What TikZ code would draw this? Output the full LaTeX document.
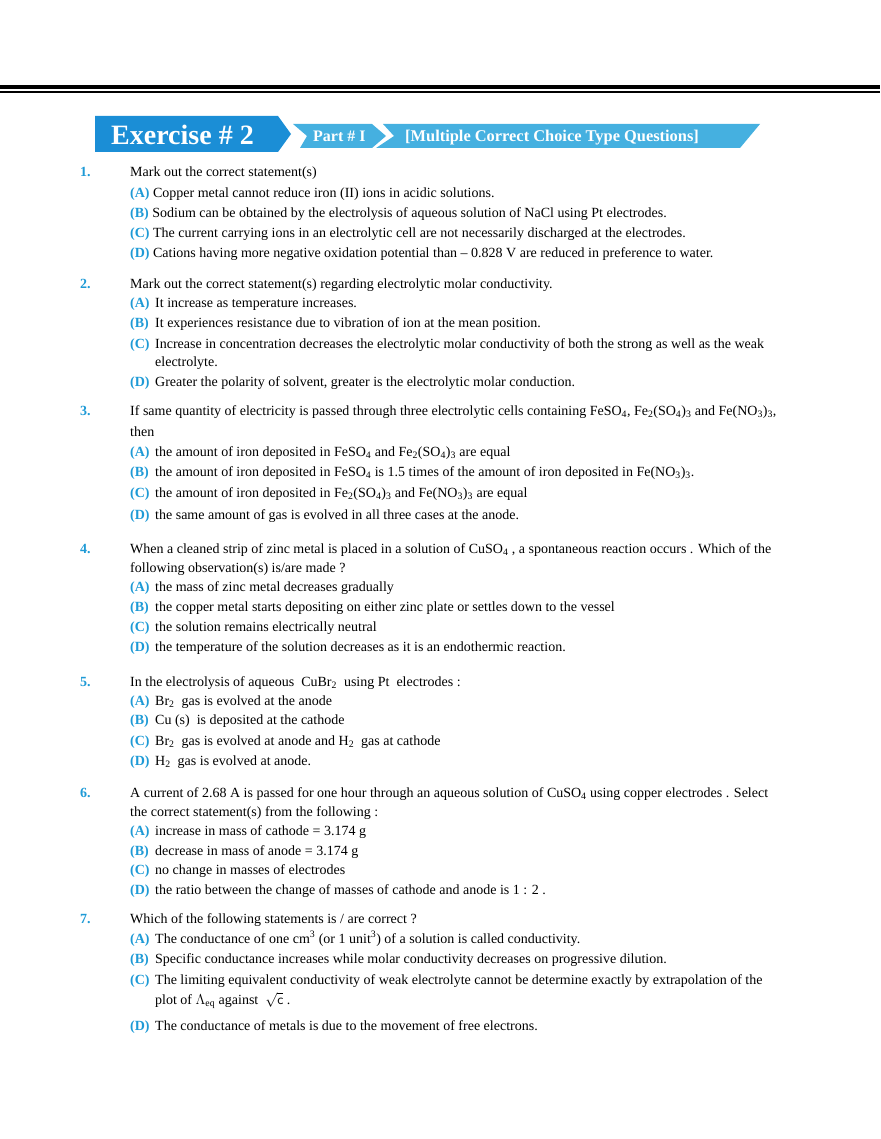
\documentclass[tikz,border=0pt]{standalone}
\usepackage{fontspec}
\setmainfont{Liberation Serif}
\definecolor{dblue}{HTML}{1B8ED6}
\definecolor{lblue}{HTML}{45B0E0}
\definecolor{qblue}{HTML}{1E9AD6}
\newcommand{\sbs}[1]{\textsubscript{#1}}
\begin{document}
\begin{tikzpicture}[x=1pt,y=-1pt,
  t/.style={anchor=base west,inner sep=0pt,font=\fontsize{14}{16}\selectfont},
  num/.style={t,font=\fontsize{14}{16}\selectfont\bfseries,text=qblue},
  ]
\useasboundingbox (0,0) rectangle (880,1139);
\fill[black] (0,85) rectangle (880,89);
\fill[black] (0,91.5) rectangle (880,93);
\fill[dblue] (95,116) -- (278,116) -- (291,134) -- (278,152) -- (95,152) -- cycle;
\fill[lblue] (293,124) -- (372,124) -- (386,136) -- (372,148) -- (300,148) -- (307,136) -- cycle;
\fill[lblue] (383,124) -- (760,124) -- (740,148) -- (376,148) -- (394,136) -- cycle;
\node[anchor=base west,inner sep=0,text=white,font=\fontsize{28}{30}\selectfont\bfseries] (h1) at (111,145) {Exercise \# 2};
\node[anchor=base west,inner sep=0,text=white,font=\fontsize{16}{18}\selectfont\bfseries] (h2) at (313,142) {Part \# I};
\node[anchor=base west,inner sep=0,text=white,font=\fontsize{16.4}{18}\selectfont\bfseries] (h3) at (405,142) {[Multiple Correct Choice Type Questions]};
% Q1
\node[num] (n1) at (80,177) {1.};
\node[t] (q1) at (130,177) {Mark out the correct statement(s)};
\node[t] (q1a) at (130,198) {\textbf{\color{qblue}(A)} Copper metal cannot reduce iron (II) ions in acidic solutions.};
\node[t] (q1b) at (130,218) {\textbf{\color{qblue}(B)} Sodium can be obtained by the electrolysis of aqueous solution of NaCl using Pt electrodes.};
\node[t] (q1c) at (130,238) {\textbf{\color{qblue}(C)} The current carrying ions in an electrolytic cell are not necessarily discharged at the electrodes.};
\node[t] (q1d) at (130,258) {\textbf{\color{qblue}(D)} Cations having more negative oxidation potential than -- 0.828 V are reduced in preference to water.};
% Q2
\node[num] (n2) at (80,288) {2.};
\node[t] (q2) at (130,288) {Mark out the correct statement(s) regarding electrolytic molar conductivity.};
\node[num] (l2a) at (130,307) {(A)}; \node[t] (q2a) at (155,307) {It increase as temperature increases.};
\node[num] (l2b) at (130,327) {(B)}; \node[t] (q2b) at (155,327) {It experiences resistance due to vibration of ion at the mean position.};
\node[num] (l2c) at (130,348) {(C)}; \node[t] (q2c) at (155,348) {Increase in concentration decreases the electrolytic molar conductivity of both the strong as well as the weak};
\node[t] (q2c2) at (155,366) {electrolyte.};
\node[num] (l2d) at (130,386) {(D)}; \node[t] (q2d) at (155,386) {Greater the polarity of solvent, greater is the electrolytic molar conduction.};
% Q3
\node[num] (n3) at (80,415) {3.};
\node[t] (q3) at (130,415) {If same quantity of electricity is passed through three electrolytic cells containing FeSO\sbs{4}, Fe\sbs{2}(SO\sbs{4})\sbs{3} and Fe(NO\sbs{3})\sbs{3},};
\node[t] (q3b) at (130,436) {then};
\node[num] (l3a) at (130,456) {(A)}; \node[t] (q3a) at (155,456) {the amount of iron deposited in FeSO\sbs{4} and Fe\sbs{2}(SO\sbs{4})\sbs{3} are equal};
\node[num] (l3b) at (130,476) {(B)}; \node[t] (q3bb) at (155,476) {the amount of iron deposited in FeSO\sbs{4} is 1.5 times of the amount of iron deposited in Fe(NO\sbs{3})\sbs{3}.};
\node[num] (l3c) at (130,497) {(C)}; \node[t] (q3c) at (155,497) {the amount of iron deposited in Fe\sbs{2}(SO\sbs{4})\sbs{3} and Fe(NO\sbs{3})\sbs{3} are equal};
\node[num] (l3d) at (130,519) {(D)}; \node[t] (q3d) at (155,519) {the same amount of gas is evolved in all three cases at the anode.};
% Q4
\node[num] (n4) at (80,553) {4.};
\node[t] (q4) at (130,553) {When a cleaned strip of zinc metal is placed in a solution of CuSO\sbs{4} , a spontaneous reaction occurs . Which of the};
\node[t] (q4b) at (130,572) {following observation(s) is/are made ?};
\node[num] (l4a) at (130,591) {(A)}; \node[t] (q4a) at (155,591) {the mass of zinc metal decreases gradually};
\node[num] (l4b) at (130,611) {(B)}; \node[t] (q4bb) at (155,611) {the copper metal starts depositing on either zinc plate or settles down to the vessel};
\node[num] (l4c) at (130,631) {(C)}; \node[t] (q4c) at (155,631) {the solution remains electrically neutral};
\node[num] (l4d) at (130,651) {(D)}; \node[t] (q4d) at (155,651) {the temperature of the solution decreases as it is an endothermic reaction.};
% Q5
\node[num] (n5) at (80,686) {5.};
\node[t] (q5) at (130,686) {In the electrolysis of aqueous \ CuBr\sbs{2} \ using Pt \ electrodes :};
\node[num] (l5a) at (130,705) {(A)}; \node[t] (q5a) at (155,705) {Br\sbs{2} \ gas is evolved at the anode};
\node[num] (l5b) at (130,724) {(B)}; \node[t] (q5b) at (155,724) {Cu (s) \ is deposited at the cathode};
\node[num] (l5c) at (130,745) {(C)}; \node[t] (q5c) at (155,745) {Br\sbs{2} \ gas is evolved at anode and H\sbs{2} \ gas at cathode};
\node[num] (l5d) at (130,765) {(D)}; \node[t] (q5d) at (155,765) {H\sbs{2} \ gas is evolved at anode.};
% Q6
\node[num] (n6) at (80,797) {6.};
\node[t] (q6) at (130,797) {A current of 2.68 A is passed for one hour through an aqueous solution of CuSO\sbs{4} using copper electrodes . Select};
\node[t] (q6b) at (130,816) {the correct statement(s) from the following :};
\node[num] (l6a) at (130,835) {(A)}; \node[t] (q6a) at (155,835) {increase in mass of cathode = 3.174 g};
\node[num] (l6b) at (130,855) {(B)}; \node[t] (q6bb) at (155,855) {decrease in mass of anode = 3.174 g};
\node[num] (l6c) at (130,874) {(C)}; \node[t] (q6c) at (155,874) {no change in masses of electrodes};
\node[num] (l6d) at (130,894) {(D)}; \node[t] (q6d) at (155,894) {the ratio between the change of masses of cathode and anode is 1 : 2 .};
% Q7
\node[num] (n7) at (80,923) {7.};
\node[t] (q7) at (130,923) {Which of the following statements is / are correct ?};
\node[num] (l7a) at (130,943) {(A)}; \node[t] (q7a) at (155,943) {The conductance of one cm\textsuperscript{3} (or 1 unit\textsuperscript{3}) of a solution is called conductivity.};
\node[num] (l7b) at (130,963) {(B)}; \node[t] (q7b) at (155,963) {Specific conductance increases while molar conductivity decreases on progressive dilution.};
\node[num] (l7c) at (130,984) {(C)}; \node[t] (q7c) at (155,984) {The limiting equivalent conductivity of weak electrolyte cannot be determine exactly by extrapolation of the};
\node[t] (q7c2) at (155,1004) {plot of $\Lambda_{\mathrm{eq}}$ against \ $\sqrt{\mathsf{c}}$ .};
\node[num] (l7d) at (130,1030) {(D)}; \node[t] (q7d) at (155,1030) {The conductance of metals is due to the movement of free electrons.};
\end{tikzpicture}
\end{document}
